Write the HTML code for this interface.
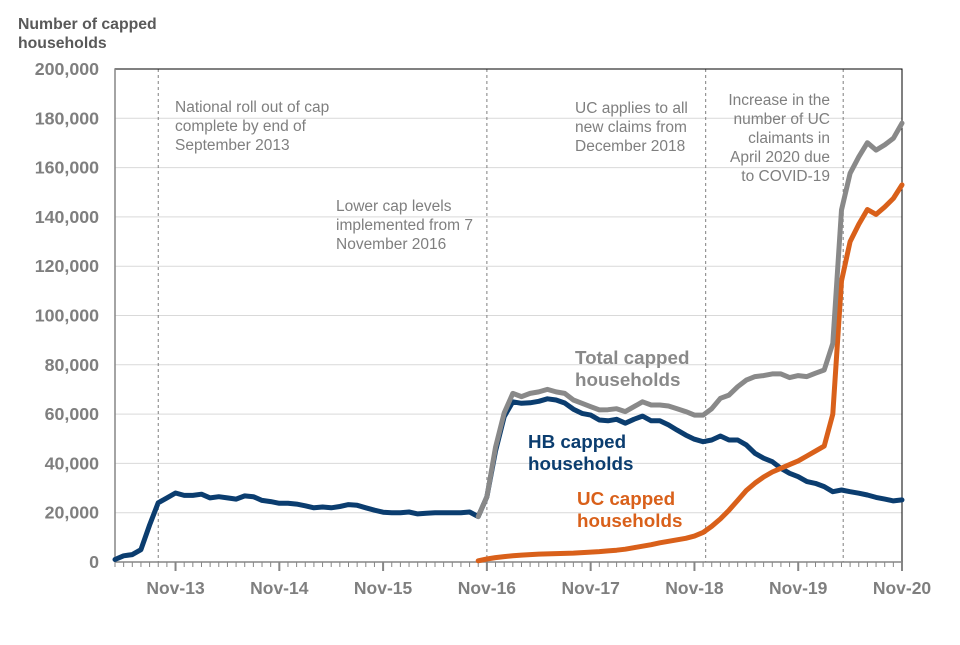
<!DOCTYPE html>
<html><head><meta charset="utf-8"><style>
body{margin:0;background:#fff;width:960px;height:640px;overflow:hidden}
svg text{font-family:"Liberation Sans",Arial,sans-serif}
</style></head><body>
<svg id="chart" width="960" height="640" xmlns="http://www.w3.org/2000/svg">
<text x="18" y="29" font-size="15.8" font-weight="bold" fill="#595959">Number of capped</text>
<text x="18" y="48" font-size="15.8" font-weight="bold" fill="#595959">households</text>
<g id="grid"></g><g id="axes"></g><g id="series"></g>
<g font-size="15.5" fill="#7f7f7f">
<text x="175" y="112">National roll out of cap</text>
<text x="175" y="131">complete by end of</text>
<text x="175" y="150">September 2013</text>
<text x="336" y="211">Lower cap levels</text>
<text x="336" y="230">implemented from 7</text>
<text x="336" y="249">November 2016</text>
<text x="575" y="113">UC applies to all</text>
<text x="575" y="132">new claims from</text>
<text x="575" y="151">December 2018</text>
<g text-anchor="end"><text x="830" y="105">Increase in the</text>
<text x="830" y="124">number of UC</text>
<text x="830" y="143">claimants in</text>
<text x="830" y="162">April 2020 due</text>
<text x="830" y="181">to COVID-19</text></g>
</g>
<g font-size="18.8" font-weight="bold">
<text x="575" y="364" fill="#898989">Total capped</text>
<text x="575" y="386" fill="#898989">households</text>
<text x="528" y="448" fill="#0b3d6f">HB capped</text>
<text x="528" y="470" fill="#0b3d6f">households</text>
<text x="577" y="505" fill="#d9601a">UC capped</text>
<text x="577" y="527" fill="#d9601a">households</text>
</g>
</svg>
<script>
// Months from Apr-13 (index 0) to Nov-20 (index 91); values in thousands
const hbValues = [1,2.5,3,5,15,24,26,28,27,27,27.5,26,26.5,26,25.5,26.8,26.5,25,24.5,23.8,23.8,23.5,22.8,22,22.3,22,22.5,23.3,23,22,21,20.2,20,20,20.3,19.5,19.8,20,20,20,20,20.3,
18.4,26.5,45,59,65,64.4,64.6,65.2,66.2,65.7,64.5,62,60.3,59.6,57.6,57.3,57.9,56.3,57.9,59.2,57.3,57.3,55.6,53.5,51.5,49.8,48.8,49.5,51.1,49.5,49.5,47.5,44.1,42.1,40.7,38,36,34.6,32.6,31.9,30.6,28.5,29.2,28.5,27.9,27.2,26.2,25.5,24.8,25.2];
// UC and Total start Oct-16 (index 42)
const ucStart = 42;
const ucValues = [0.5,1.2,1.8,2.2,2.5,2.8,3,3.2,3.3,3.4,3.5,3.6,3.8,4,4.2,4.5,4.8,5.2,5.8,6.4,7,7.8,8.4,9,9.6,10.5,12,14.5,17.5,21,25,29,32,34.5,36.5,38,39.5,41,43,45,47,60,114,130,137,143,141,144,147.5,153];
const totalValues = [18.4,26.5,46.5,60.5,68.4,67.1,68.4,69,70,69,68.4,65.7,64.4,63,61.7,61.8,62.2,61,63,65,63.7,63.7,63.3,62.2,61,59.6,59.6,62.2,66.4,67.7,71.1,73.8,75.2,75.6,76.3,76.3,74.8,75.6,75.2,76.6,77.9,88.7,142.8,157.7,164.4,170.1,167.1,169.2,171.9,178];
const yTicks = [0,20000,40000,60000,80000,100000,120000,140000,160000,180000,200000];
const xLabels = ["Nov-13","Nov-14","Nov-15","Nov-16","Nov-17","Nov-18","Nov-19","Nov-20"];
const xLabelIdx = [7,19,31,43,55,67,79,91];
const eventIdx = [5,43,68.3,84.2];

const NS="http://www.w3.org/2000/svg";
const L=115,R=902,T=69,B=562,N=91;
const x=i=>L+(R-L)*i/N;
const y=v=>B-(B-T)*v/200000;
function mk(t,a,p){const e=document.createElementNS(NS,t);for(const k in a)e.setAttribute(k,a[k]);p.appendChild(e);return e;}
const grid=document.getElementById('grid'),axes=document.getElementById('axes'),ser=document.getElementById('series');
yTicks.forEach(v=>{
  if(v>0){const g=mk('line',{x1:L,x2:R,y1:y(v),y2:y(v),stroke:'#d9d9d9','stroke-width':1},grid);
  
  }
  const t=mk('text',{x:99,y:y(v)+6,'text-anchor':'end','font-size':17.8,'font-weight':'bold',fill:'#7f7f7f'},axes);
  t.textContent=v.toLocaleString('en-US');
  
  
});
eventIdx.forEach(i=>{
  const d=mk('line',{x1:x(i),x2:x(i),y1:T,y2:B,stroke:'#7f7f7f','stroke-width':1,'stroke-dasharray':'3,3'},grid);
  
  
});
const frame=mk('rect',{x:L,y:T,width:R-L,height:B-T,fill:'none',stroke:'#000','stroke-width':1},axes);


const la=mk('line',{x1:L,x2:L,y1:T,y2:B,stroke:'#868686','stroke-width':1.5},axes);


const ba=mk('line',{x1:L,x2:R,y1:B,y2:B,stroke:'#868686','stroke-width':1.5},axes);


for(let i=0;i<=N;i++){
  const maj=xLabelIdx.includes(i);
  const tk=mk('line',{x1:x(i),x2:x(i),y1:B,y2:B+(maj?9:5),stroke:'#868686','stroke-width':maj?2:1},axes);
  
  
}
xLabels.forEach((s,j)=>{
  const t=mk('text',{x:x(xLabelIdx[j]),y:594,'text-anchor':'middle','font-size':17.5,'font-weight':'bold',fill:'#7f7f7f'},axes);
  t.textContent=s;
  
  
});
function line(vals,start,col,name){
  const pts=vals.map((v,k)=>x(start+k).toFixed(1)+','+y(v*1000).toFixed(1)).join(' ');
  const p=mk('polyline',{points:pts,fill:'none',stroke:col,'stroke-width':5,'stroke-linejoin':'round','stroke-linecap':'round'},ser);
  
  
}
line(hbValues,0,'#0b3d6f','hb-series-line');
line(ucValues,ucStart,'#d9601a','uc-series-line');
line(totalValues,ucStart,'#898989','total-series-line');
</script>
</body></html>
